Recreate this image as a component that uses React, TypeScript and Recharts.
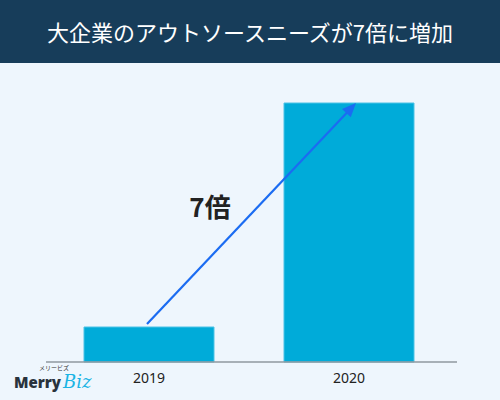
import React from 'react';
import { BarChart, Bar, XAxis, YAxis, ReferenceLine } from 'recharts';

const categories = ['2019', '2020'];
const values = [1, 7.4];
const yTicks = [0, 8];
const title = '大企業のアウトソースニーズが7倍に増加';
const ratioLabel = '7倍';

const data = categories.map((c, i) => ({ year: c, value: values[i] }));

const ArrowShape = (props: any) => {
  const { x1, y1, x2, y2 } = props;
  if (x1 == null) return null;
  const ex = x2 + 7, ey = y2;
  const sx = x1 - 2, sy = y1 - 3;
  const ang = Math.atan2(ey - sy, ex - sx);
  const L = 14, W = 6;
  const bx = ex - L * Math.cos(ang), by = ey - L * Math.sin(ang);
  const px = -Math.sin(ang) * W, py = Math.cos(ang) * W;
  return (
    <g>
      <line x1={sx} y1={sy} x2={bx + 2 * Math.cos(ang)} y2={by + 2 * Math.sin(ang)} stroke="#1b6cf2" strokeWidth={2.2} />
      <path d={`M${ex},${ey} L${bx + px},${by + py} L${bx - px},${by - py} Z`} fill="#1b6cf2" />
    </g>
  );
};

export default function App() {
  return (
    <div style={{ position: 'absolute', left: 0, top: 0, width: 500, height: 400, background: '#eef6fd', overflow: 'hidden', fontFamily: '"Noto Sans CJK JP", "Noto Sans", sans-serif' }}>
      <BarChart width={500} height={400} data={data} margin={{ top: 82, right: 43, bottom: 8, left: 46 }} barSize={130}>
        <XAxis
          dataKey="year"
          padding={{ left: 3, right: 8 }}
          axisLine={{ stroke: '#8f999f', strokeWidth: 1.5 }}
          tickLine={false}
          height={30}
          tick={{ fill: '#222', fontSize: 14, fontFamily: '"Noto Sans", sans-serif' }}
          tickMargin={5}
        />
        <YAxis hide domain={[0, 8]} ticks={yTicks} />
        <Bar dataKey="value" fill="#00abd9" stroke="#4cc3e6" strokeWidth={1} isAnimationActive={false} />
        <ReferenceLine
          segment={[{ x: '2019', y: values[0] }, { x: '2020', y: values[1] }]}
          shape={ArrowShape}
          ifOverflow="visible"
        />
      </BarChart>
      <div style={{ position: 'absolute', left: 0, top: 0, width: 500, height: 63, background: '#173d5a', color: '#fff', fontSize: 22, lineHeight: '63px', textAlign: 'center' }}>
        {title}
      </div>
      <div style={{ position: 'absolute', left: 160, top: 188, width: 100, textAlign: 'center', fontSize: 26, fontWeight: 700, color: '#222', lineHeight: '36px' }}>
        {ratioLabel}
      </div>
      <div style={{ position: 'absolute', left: 14, top: 364, height: 30, width: 90 }}>
        <div style={{ position: 'absolute', left: 25, top: 0, fontSize: 6, lineHeight: '7px', color: '#333', whiteSpace: 'nowrap' }}>メリービズ</div>
        <div style={{ position: 'absolute', left: 0, top: 10, fontSize: 15, fontWeight: 900, color: '#29323c', fontFamily: '"Noto Sans", sans-serif', lineHeight: '16px' }}>Merry</div>
        <div style={{ position: 'absolute', left: 49, top: 8, fontSize: 18, fontStyle: 'italic', color: '#1ab4e4', fontFamily: '"DejaVu Serif", serif', lineHeight: '19px' }}>Biz</div>
      </div>
    </div>
  );
}
